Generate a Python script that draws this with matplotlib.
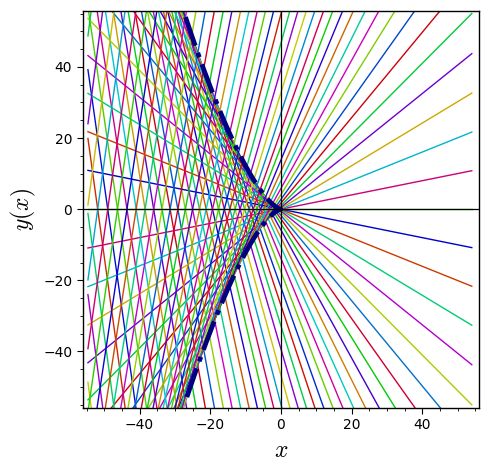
import colorsys
import numpy as np
import matplotlib
matplotlib.use("Agg")
import matplotlib.pyplot as plt
from matplotlib.ticker import MultipleLocator

plt.rcParams['mathtext.fontset'] = 'cm'

# slopes of the Clairaut lines y = c*x + c^3 (general solution)
slopes = [-9.6, -9.4, -9.2, -9.0, -8.8, -8.6, -8.4, -8.2, -8.0, -7.8,
          -7.6, -7.4, -7.2, -7.0, -6.8, -6.6, -6.4, -6.2, -6.0, -5.8,
          -5.6, -5.4, -5.2, -5.0, -4.8, -4.6, -4.4, -4.2, -4.0, -3.8,
          -3.6, -3.4, -3.2, -3.0, -2.8, -2.6, -2.4, -2.2, -2.0, -1.8,
          -1.6, -1.4, -1.2, -1.0, -0.8, -0.6, -0.4, -0.2, 0.0, 0.2,
          0.4, 0.6, 0.8, 1.0, 1.2, 1.4, 1.6, 1.8, 2.0, 2.2,
          2.4, 2.6, 2.8, 3.0, 3.2, 3.4, 3.6, 3.8, 4.0, 4.2,
          4.4, 4.6, 4.8, 5.0, 5.2, 5.4, 5.6, 5.8, 6.0, 6.2,
          6.4, 6.6, 6.8, 7.0, 7.2, 7.4, 7.6, 7.8, 8.0, 8.2,
          8.4, 8.6, 8.8, 9.0, 9.2, 9.4, 9.6]
x_range = [-54.6, 54.0]
# singular solution (envelope), parameter range
env_param = [-3.0, 3.0]


def golden_rainbow(i, lightness=0.4):
    h = (0.618033988749895 + 0.61803398875 * i) % 1
    return colorsys.hls_to_rgb(h, lightness, 1.0)


fig = plt.figure(figsize=(4.89, 4.70), dpi=100)
ax = fig.add_axes([0.169, 0.1326, 0.811, 0.8447])

xs = np.array(x_range)
for i, c in enumerate(slopes):
    ax.plot(xs, c * xs + c ** 3, color=golden_rainbow(i), lw=1.0)

t = np.linspace(env_param[0], env_param[1], 400)
ax.plot(-3 * t ** 2, -2 * t ** 3, color='#000080', lw=3.4, ls='-.')

ax.axhline(0, color='black', lw=0.9)
ax.axvline(0, color='black', lw=0.9)

ax.set_xlim(-56.1, 56.1)
ax.set_ylim(-55.8, 55.8)
ax.xaxis.set_major_locator(MultipleLocator(20))
ax.yaxis.set_major_locator(MultipleLocator(20))
ax.xaxis.set_minor_locator(MultipleLocator(5))
ax.yaxis.set_minor_locator(MultipleLocator(5))
ax.tick_params(which='major', length=4, direction='out', labelsize=10)
ax.tick_params(which='minor', length=2, direction='out')
for s in ax.spines.values():
    s.set_linewidth(1.0)

ax.set_xlabel('$x$', fontsize=17)
ax.set_ylabel('$y(x)$', fontsize=17)

fig.savefig('out.png', dpi=100)
